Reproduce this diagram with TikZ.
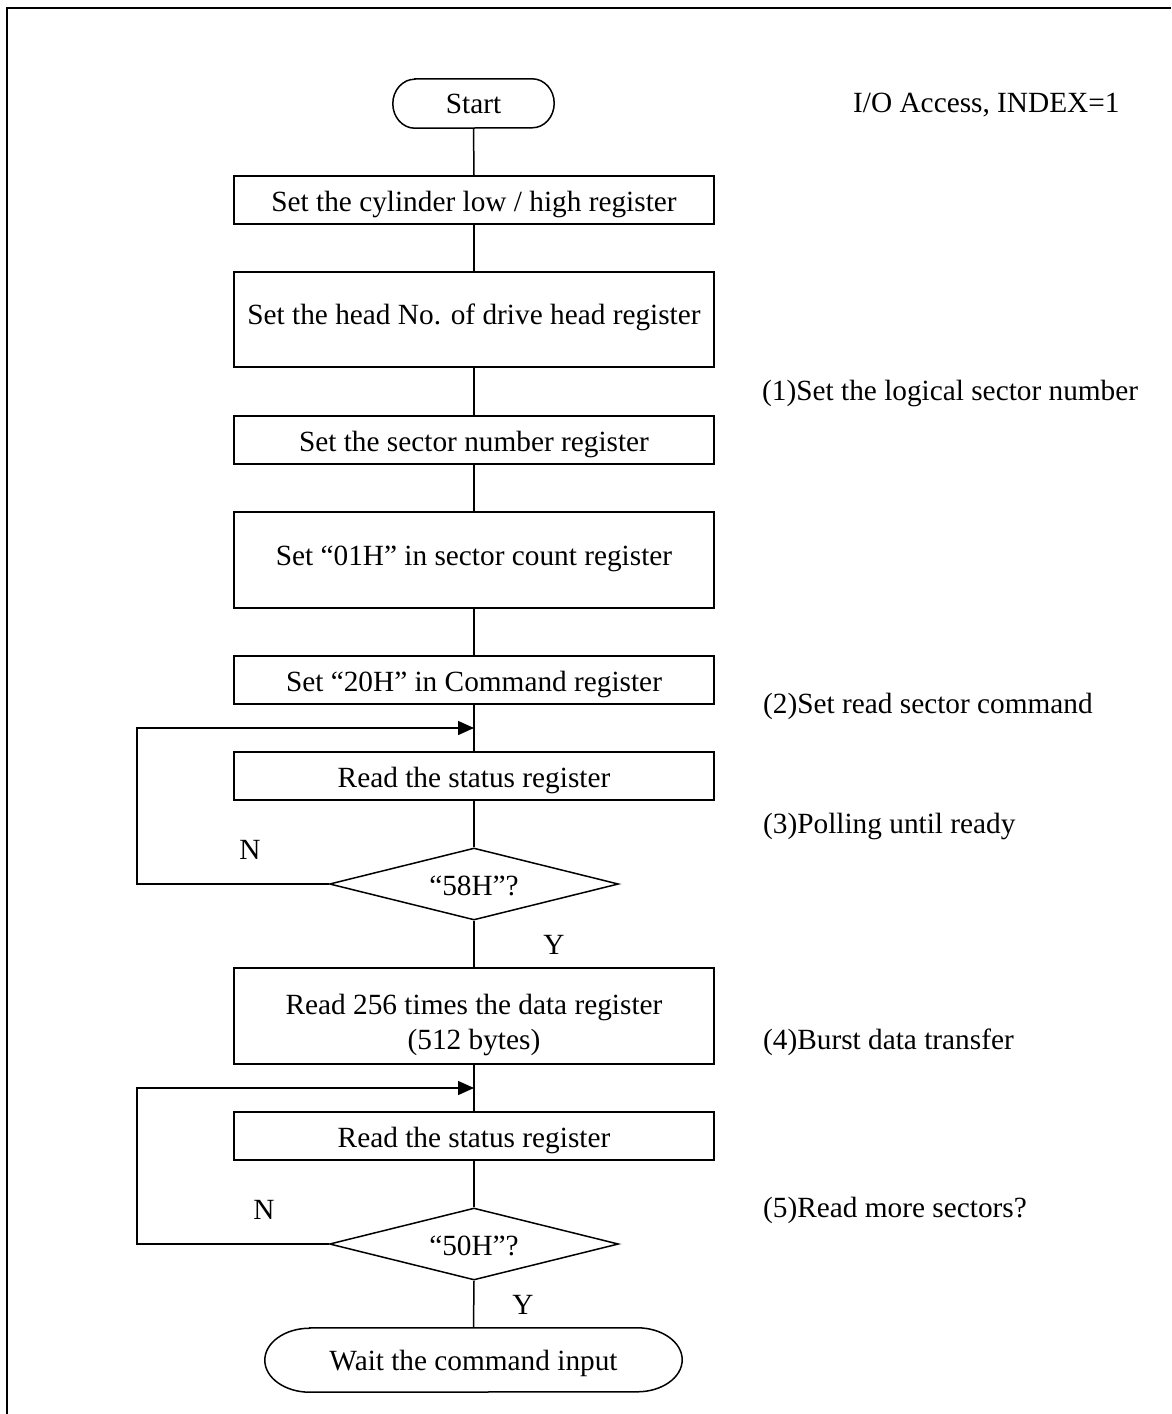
\documentclass[tikz,border=0pt]{standalone}
\usepackage{fontspec}
\setmainfont{Liberation Serif}
\usetikzlibrary{arrows.meta,shapes.geometric}
\begin{document}
\begin{tikzpicture}[x=1pt,y=1pt,
  every node/.style={font=\fontsize{29.3}{35}\selectfont, inner sep=0pt},
  ln/.style={line width=1.5pt},
  lowtext/.style={text height=22pt, text depth=0pt},
  procbox/.style={draw, line width=1.5pt, minimum width=480pt, minimum height=48pt, lowtext},
  tallbox/.style={draw, line width=1.5pt, minimum width=480pt, minimum height=96pt, text height=20pt, text depth=10pt},
  decbox/.style={draw, diamond, line width=1.5pt, minimum width=289pt, minimum height=72pt, aspect=4, lowtext},
  termtext/.style={draw=none, text height=20pt, text depth=0pt},
  note/.style={anchor=west},
  yn/.style={},
  loopar/.style={ln, -{Triangle[length=16pt,width=14pt]}}
]
\useasboundingbox (0,0) rectangle (1171,-1414);
% frame
\draw[line width=2pt] (7,-1414) -- (7,-8) -- (1171,-8);

% nodes
\node[termtext, minimum width=161pt, minimum height=49pt] (s) at (473.5,-103.5) {Start};
\node[procbox] (b1) at (474,-200) {Set the cylinder low / high register};
\node[tallbox, minimum height=95pt] (b2) at (474,-319.5) {Set the head No. of drive head register};
\node[procbox] (b3) at (474,-440) {Set the sector number register};
\node[tallbox] (b4) at (474,-560) {Set “01H” in sector count register};
\node[procbox] (b5) at (474,-680) {Set “20H” in Command register};
\node[procbox] (b6) at (474,-776) {Read the status register};
\node[decbox] (d1) at (474,-884) {“58H”?};
\node[draw, line width=1.5pt, minimum width=480pt, minimum height=96pt] (b7) at (474,-1016) {};
\node[align=center] (b7t) at ([yshift=-9pt]b7.center) {Read 256 times the data register\\(512 bytes)};
\node[procbox] (b8) at (474,-1136) {Read the status register};
\node[decbox] (d2) at (474,-1244) {“50H”?};
\node[termtext, minimum width=417pt, minimum height=64pt] (e) at (473.5,-1360) {Wait the command input};

% terminal outlines
\draw[ln] ([xshift=22pt]s.north west) -- ([xshift=-22pt]s.north east)
  arc[start angle=90,end angle=-90,x radius=22pt,y radius=24.5pt]
  -- ([xshift=22pt]s.south west)
  arc[start angle=270,end angle=90,x radius=22pt,y radius=24.5pt] -- cycle;
\draw[ln] ([xshift=45pt]e.north west) -- ([xshift=-45pt]e.north east)
  arc[start angle=90,end angle=-90,x radius=45pt,y radius=32pt]
  -- ([xshift=45pt]e.south west)
  arc[start angle=270,end angle=90,x radius=45pt,y radius=32pt] -- cycle;

% notes
\node[note] (n0) at (853,-105) {I/O Access, INDEX=1};
\node[note] (n1) at (762,-393) {(1)Set the logical sector number};
\node[note] (n2) at (763,-706) {(2)Set read sector command};
\node[note] (n3) at (763,-826) {(3)Polling until ready};
\node[note] (n4) at (763,-1042) {(4)Burst data transfer};
\node[note] (n5) at (763,-1210) {(5)Read more sectors?};

% connectors
\draw[ln] (s.south) -- (b1.north);
\draw[ln] (b1.south) -- (b2.north);
\draw[ln] (b2.south) -- (b3.north);
\draw[ln] (b3.south) -- (b4.north);
\draw[ln] (b4.south) -- (b5.north);
\draw[ln] (b5.south) -- (b6.north);
\draw[ln] (b6.south) -- (d1.north);
\draw[ln] (d1.south) -- (b7.north);
\draw[ln] (b7.south) -- (b8.north);
\draw[ln] (b8.south) -- (d2.north);
\draw[ln] (d2.south) -- (e.north);

\coordinate (j1) at (474,-728);
\coordinate (c1) at (137,-884);
\draw[loopar] (d1.west) -- (c1) |- (j1);
\coordinate (j2) at (474,-1088);
\coordinate (c2) at (137,-1244);
\draw[loopar] (d2.west) -- (c2) |- (j2);

% labels
\node[yn] (N1) at (250,-850) {N};
\node[yn] (Y1) at (554,-945) {Y};
\node[yn] (N2) at (264,-1210) {N};
\node[yn] (Y2) at (523,-1305) {Y};
\end{tikzpicture}
\end{document}
